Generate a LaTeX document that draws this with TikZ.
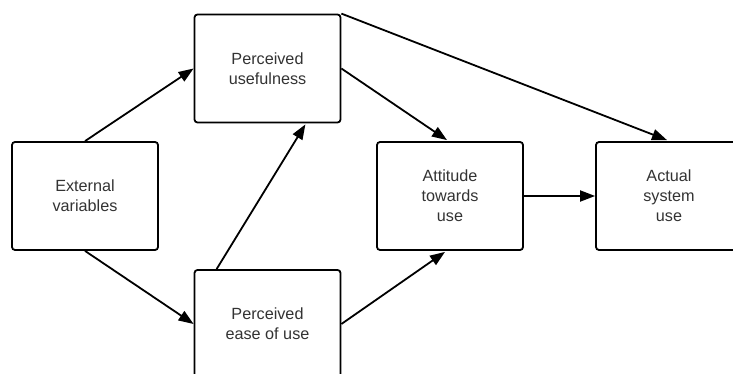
\documentclass[tikz,border=0pt]{standalone}
\usepackage{fontspec}
\setmainfont{Liberation Sans}
\usetikzlibrary{arrows.meta,calc}
\definecolor{boxtext}{HTML}{333333}
\begin{document}
\begin{tikzpicture}[x=1pt,y=-1pt,
  block/.style={draw=black,line width=1.8pt,rounded corners=3pt,fill=white,
    minimum width=146pt,minimum height=108pt,inner sep=0pt,
    align=center,text=boxtext,font=\fontsize{16.2}{20}\selectfont},
  link/.style={line width=1.8pt,-{Triangle[length=15pt,width=11pt]}}]
  \useasboundingbox (0,0) rectangle (733,374);
  \clip (0,0) rectangle (733,374);
  % boxes
  \node[block] (ext)  at (85,196)  {External\\variables};
  \node[block] (pu)   at (267.5,68.5) {Perceived\\usefulness};
  \node[block] (peou) at (267.5,324) {Perceived\\ease of use};
  \node[block] (att)  at (450,196) {Attitude\\towards\\use};
  \node[block] (act)  at (669,196) {Actual\\system\\use};
  % connectors
  \draw[link] (ext.north) -- (pu.west);
  \draw[link] (ext.south) -- (peou.west);
  \draw[link] ($(peou.north west)+(23,0)$) -- ($(pu.south east)+(-36,1)$);
  \draw[link] (pu.east) -- ($(att.north)+(-3,-1)$);
  \draw[link] (peou.east) -- ($(att.south)+(-5,1)$);
  \draw[link] (pu.north east) -- ($(act.north)+(-2,-1)$);
  \draw[link] (att.east) -- (act.west);
\end{tikzpicture}
\end{document}
